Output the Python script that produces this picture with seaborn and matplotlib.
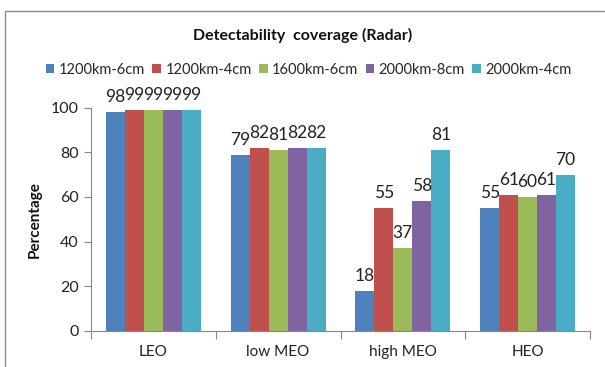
import matplotlib
matplotlib.use("Agg")
import matplotlib.pyplot as plt
from matplotlib.lines import Line2D
from matplotlib.patches import Patch
from matplotlib.ticker import FixedLocator, NullFormatter
import seaborn as sns
import pandas as pd

# Orbit regimes on the x axis
orbits = ["LEO", "low MEO", "high MEO", "HEO"]

# Radar configurations (legend entries)
configs = ["1200km-6cm", "1200km-4cm", "1600km-6cm", "2000km-8cm", "2000km-4cm"]

# Detectability coverage in percent, one list per configuration
cov_1200_6 = [98, 79, 18, 55]
cov_1200_4 = [99, 82, 55, 61]
cov_1600_6 = [99, 81, 37, 60]
cov_2000_8 = [99, 82, 58, 61]
cov_2000_4 = [99, 82, 81, 70]

yticks = [0, 20, 40, 60, 80, 100]

colors = ["#4F81BD", "#C0504D", "#9BBB59", "#8064A2", "#4BACC6"]

series = [cov_1200_6, cov_1200_4, cov_1600_6, cov_2000_8, cov_2000_4]
rows = []
for cfg, vals in zip(configs, series):
    for orb, v in zip(orbits, vals):
        rows.append({"orbit": orb, "config": cfg, "pct": v})
df = pd.DataFrame(rows)

sns.set_theme(style="white")
plt.rcParams["font.family"] = ["Lato", "DejaVu Sans"]

fig = plt.figure(figsize=(6.05, 3.67), dpi=100)
ax = fig.add_axes([91 / 605, 1 - 330.7 / 367, (590 - 91) / 605, 223 / 367])

sns.barplot(data=df, x="orbit", y="pct", hue="config", order=orbits,
            hue_order=configs, palette=colors, width=0.76, saturation=1,
            errorbar=None, ax=ax, legend=False, linewidth=0)

for cont in ax.containers:
    ax.bar_label(cont, fmt="%d", padding=5, fontsize=12.5, color="#222222")

ax.set_ylim(0, 100)
ax.set_xlim(-0.5, 3.5)
ax.set_yticks(yticks)
ax.tick_params(axis="y", labelsize=11.5, length=5, width=0.8, color="#868686",
               direction="out", left=True, pad=4, labelcolor="#222222")
ax.tick_params(axis="x", which="major", labelsize=11, length=0, pad=10,
               labelcolor="#222222")
ax.xaxis.set_minor_locator(FixedLocator([-0.5, 0.5, 1.5, 2.5, 3.5]))
ax.xaxis.set_minor_formatter(NullFormatter())
ax.tick_params(axis="x", which="minor", length=6, width=0.8, color="#868686",
               bottom=True, direction="out")

for side in ["top", "right"]:
    ax.spines[side].set_visible(False)
for side in ["left", "bottom"]:
    ax.spines[side].set_color("#868686")
    ax.spines[side].set_linewidth(0.8)

ax.set_xlabel("")
ax.set_ylabel("Percentage", fontsize=11, fontweight="bold", labelpad=6,
              color="#111111")

fig.text(0.5, 1 - 35 / 367, "Detectability  coverage (Radar)", ha="center",
         va="center", fontsize=11.5, fontweight="bold", color="#111111")

handles = [Patch(facecolor=c, edgecolor="none") for c in colors]
fig.legend(handles, configs, loc="center", bbox_to_anchor=(0.51, 1 - 70 / 367),
           ncol=5, frameon=False, fontsize=10.5, handlelength=0.6,
           handleheight=0.6, handletextpad=0.3, columnspacing=0.5)

# Outer chart frame (left and top edges)
fig.add_artist(Line2D([4.5 / 605, 4.5 / 605], [0, 1 - 10.5 / 367],
                      transform=fig.transFigure, color="#8a8a8a", lw=1))
fig.add_artist(Line2D([4.5 / 605, 604 / 605], [1 - 10.5 / 367, 1 - 10.5 / 367],
                      transform=fig.transFigure, color="#8a8a8a", lw=1))

fig.savefig("out.png", dpi=100)
